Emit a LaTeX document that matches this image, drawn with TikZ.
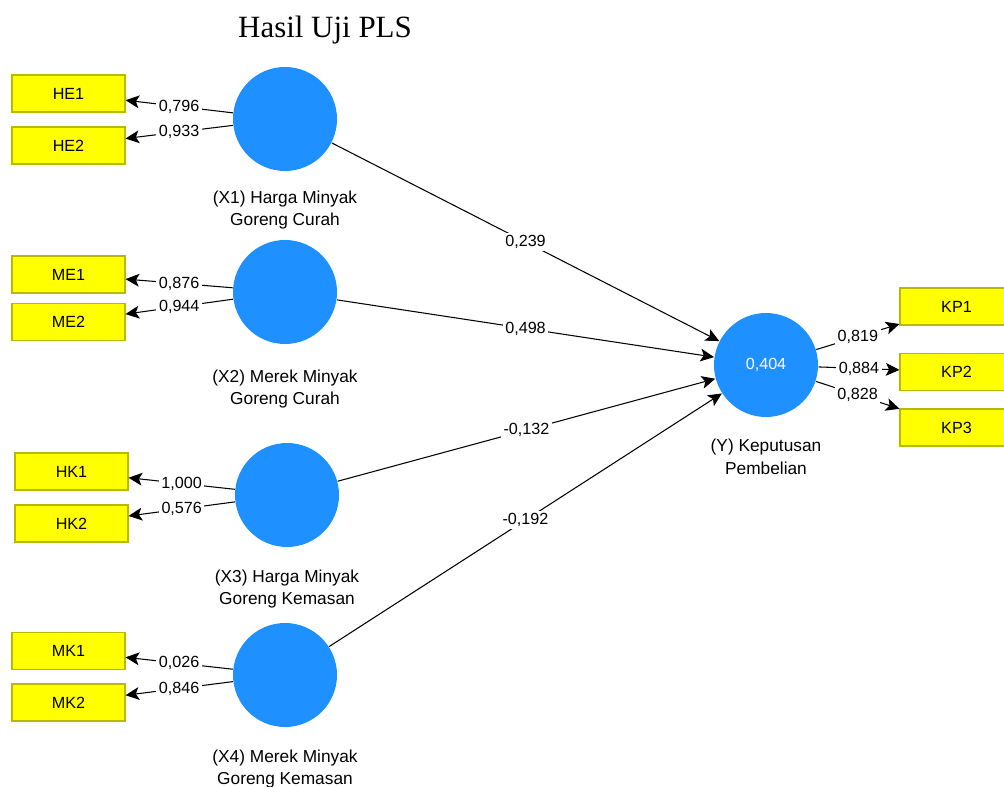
\documentclass[tikz,border=0pt]{standalone}
\usepackage{fontspec}
\setmainfont{Liberation Sans}
\newfontfamily\titlefont{Liberation Serif}
\usetikzlibrary{arrows.meta}
\definecolor{lvblue}{RGB}{30,144,255}
\definecolor{indyellow}{RGB}{255,255,0}
\definecolor{indborder}{RGB}{185,185,0}
\begin{document}
\begin{tikzpicture}[x=0.25mm, y=-0.25mm, every node/.style={align=center, font=\fontsize{11.5}{16}\selectfont},
  latent/.style={circle, fill=lvblue, minimum size=2.6cm, inner sep=0pt},
  indicator/.style={rectangle, draw=indborder, fill=indyellow, minimum width=2.825cm, minimum height=0.925cm, inner sep=0pt, font=\fontsize{11.5}{13}\selectfont},
  caption/.style={font=\fontsize{12.3}{16.3}\selectfont},
  coef/.style={midway, fill=white, inner sep=1.8pt},
  >={Stealth[length=3.4mm, width=3.2mm, inset=0.8mm]}, line width=0.75pt]
  \useasboundingbox (0,0) rectangle (1004,787);
  \node (T) at (325,30){\titlefont\fontsize{22}{26}\selectfont Hasil Uji PLS};

  % latent variables
  \node[latent] (X1) at (285,119){};
  \node[latent] (X2) at (285,292){};
  \node[latent] (X3) at (287,495){};
  \node[latent] (X4) at (285,675){};
  \node[latent, text=white] (Y) at (766,365){0,404};
  \node[caption] (X1c) at (285,210){(X1) Harga Minyak\\Goreng Curah};
  \node[caption] (X2c) at (285,389){(X2) Merek Minyak\\Goreng Curah};
  \node[caption] (X3c) at (287,589){(X3) Harga Minyak\\Goreng Kemasan};
  \node[caption] (X4c) at (285,769){(X4) Merek Minyak\\Goreng Kemasan};
  \node[caption] (Yc) at (766,457){(Y) Keputusan\\Pembelian};

  % indicators
  \node[indicator] (HE1) at (68.5,93.5){HE1};
  \node[indicator] (HE2) at (68.5,145.5){HE2};
  \node[indicator] (ME1) at (68.5,274.5){ME1};
  \node[indicator] (ME2) at (68.5,322){ME2};
  \node[indicator] (HK1) at (71.5,471.5){HK1};
  \node[indicator] (HK2) at (71.5,523.5){HK2};
  \node[indicator] (MK1) at (68.5,651){MK1};
  \node[indicator] (MK2) at (68.5,702.5){MK2};
  \node[indicator] (KP1) at (956.5,306.5){KP1};
  \node[indicator] (KP2) at (956.5,372){KP2};
  \node[indicator] (KP3) at (956.5,427.5){KP3};

  % outer loadings
  \draw[->] (X1) -- (HE1) node[coef]{0,796};
  \draw[->] (X1) -- (HE2) node[coef]{0,933};
  \draw[->] (X2) -- (ME1) node[coef]{0,876};
  \draw[->] (X2) -- (ME2) node[coef]{0,944};
  \draw[->] (X3) -- (HK1) node[coef]{1,000};
  \draw[->] (X3) -- (HK2) node[coef]{0,576};
  \draw[->] (X4) -- (MK1) node[coef]{0,026};
  \draw[->] (X4) -- (MK2) node[coef]{0,846};
  \draw[->] (Y) -- (KP1) node[coef]{0,819};
  \draw[->] (Y) -- (KP2) node[coef]{0,884};
  \draw[->] (Y) -- (KP3) node[coef]{0,828};

  % path coefficients
  \draw[->] (X1) -- (Y) node[coef]{0,239};
  \draw[->] (X2) -- (Y) node[coef]{0,498};
  \draw[->] (X3) -- (Y) node[coef]{-0,132};
  \draw[->] (X4) -- (Y) node[coef]{-0,192};
\end{tikzpicture}
\end{document}
